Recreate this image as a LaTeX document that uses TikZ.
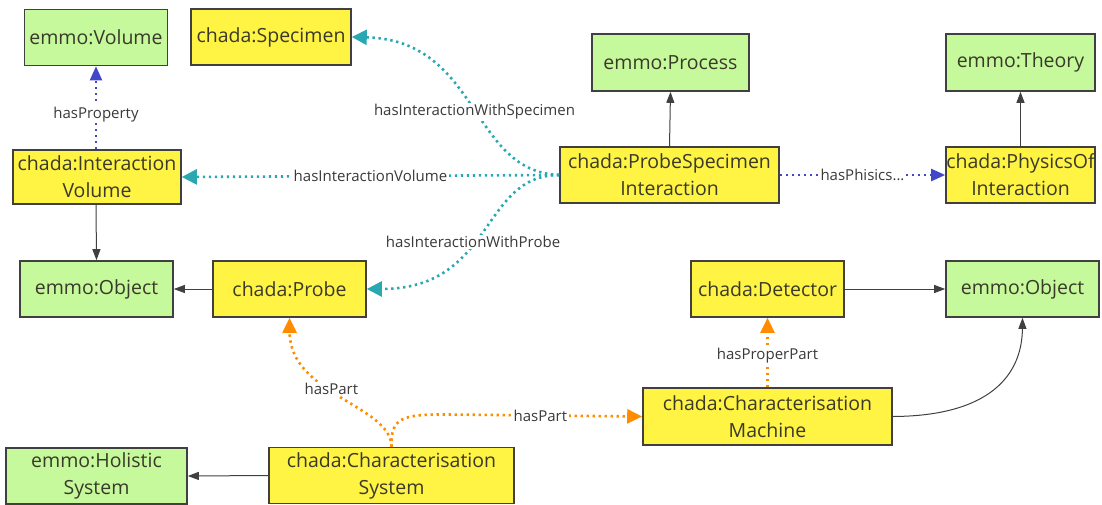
\documentclass[tikz,border=0pt]{standalone}
\usepackage{fontspec}
\setmainfont{Open Sans}
\usetikzlibrary{arrows.meta}
\definecolor{gfill}{HTML}{C6F99B}
\definecolor{yfill}{HTML}{FFF344}
\definecolor{bord}{HTML}{404040}
\definecolor{txt}{HTML}{3A3A2A}
\definecolor{teal}{HTML}{2AA8B2}
\definecolor{blu}{HTML}{4048C8}
\definecolor{orng}{HTML}{FF8C00}
\definecolor{lbl}{HTML}{3A3A3A}
\tikzset{
  box/.style={draw=bord, line width=1.6pt, text=txt, align=center, inner sep=0pt,
    font=\fontsize{19.5}{27}\selectfont},
  gbox/.style={box, fill=gfill},
  ybox/.style={box, fill=yfill},
  dotline/.style={line width=2.6pt, dash pattern=on 2.4pt off 3.6pt},
  tealarr/.style={dotline, draw=teal, -{Triangle[length=15pt,width=15pt]}},
  bluarr/.style={dotline, line width=2.2pt, draw=blu, -{Triangle[length=14pt,width=12pt]}},
  orarr/.style={dotline, draw=orng, -{Triangle[length=15pt,width=14pt]}},
  blkarr/.style={draw=black!75, line width=1pt, -{Triangle[length=11pt,width=8pt]}},
  lab/.style={fill=white, text=lbl, inner sep=1.5pt, font=\fontsize{15}{17}\selectfont}
}
\begin{document}
\begin{tikzpicture}[x=1pt,y=-1pt]
\useasboundingbox (0,0) rectangle (1102,504);
% nodes
\node[gbox, minimum width=143pt, minimum height=56pt] (vol) at (96,37.5) {emmo:Volume};
\node[ybox, minimum width=160pt, minimum height=56pt] (spec) at (271,37) {chada:Specimen};
\node[gbox, minimum width=157pt, minimum height=57pt] (proc) at (670.5,62.5) {emmo:Process};
\node[gbox, minimum width=149pt, minimum height=57pt] (theory) at (1020.5,62.5) {emmo:Theory};
\node[ybox, minimum width=219pt, minimum height=56pt] (psi) at (669.5,175) {chada:ProbeSpecimen\\Interaction};
\node[ybox, minimum width=149pt, minimum height=56pt] (phys) at (1020.5,175) {chada:PhysicsOf\\Interaction};
\node[ybox, minimum width=168pt, minimum height=54pt] (iv) at (97,177) {chada:Interaction\\Volume};
\node[gbox, minimum width=153pt, minimum height=56pt] (objL) at (96.5,289) {emmo:Object};
\node[ybox, minimum width=153pt, minimum height=56pt] (probe) at (289.5,289) {chada:Probe};
\node[ybox, minimum width=153pt, minimum height=56pt] (det) at (767.5,289) {chada:Detector};
\node[gbox, minimum width=153pt, minimum height=56pt] (objR) at (1022.5,289) {emmo:Object};
\node[ybox, minimum width=249pt, minimum height=57pt] (cm) at (767.5,416.5) {chada:Characterisation\\Machine};
\node[gbox, minimum width=181pt, minimum height=56pt] (hs) at (96.5,476) {emmo:Holistic\\System};
\node[ybox, minimum width=245pt, minimum height=56pt] (cs) at (391.5,475.5) {chada:Characterisation\\System};
% black edges
\draw[blkarr] (psi.north) -- (proc.south);
\draw[blkarr] (phys.north) -- (theory.south);
\draw[blkarr] (iv.south -| vol.south) -- (objL.north);
\draw[blkarr] (probe.west) -- (objL.east);
\draw[blkarr] (det.east) -- (objR.west);
\draw[blkarr] (cs.west) -- (hs.east);
\draw[blkarr] (cm.east) .. controls (990,416) and (1022,375) .. (objR.south);
% blue
\draw[bluarr] (iv.north -| vol.south) -- node[lab, pos=0.42]{hasProperty} (vol.south);
\draw[bluarr] (psi.east) -- node[lab]{hasPhisics...} (phys.west);
% teal
\draw[tealarr] (psi.west) .. controls (470,172) and (480,40) .. node[lab, pos=0.47]{hasInteractionWithSpecimen} (spec.east);
\draw[tealarr] (psi.west) -- node[lab, pos=0.5]{hasInteractionVolume} (iv.east);
\draw[tealarr] (psi.west) .. controls (480,175) and (495,289) .. node[lab, pos=0.56]{hasInteractionWithProbe} (probe.east);
% orange
\coordinate (csTop) at (cs.north);
\draw[orarr] (csTop) .. controls (391,405) and (290,395) .. node[lab, pos=0.56]{hasPart} (probe.south);
\draw[orarr] (csTop) .. controls (391,418) and (400,414) .. (450,414.5) -- node[lab, pos=0.47]{hasPart} (cm.west);
\draw[orarr] (cm.north) -- node[lab, pos=0.45]{hasProperPart} (det.south);
\end{tikzpicture}
\end{document}
